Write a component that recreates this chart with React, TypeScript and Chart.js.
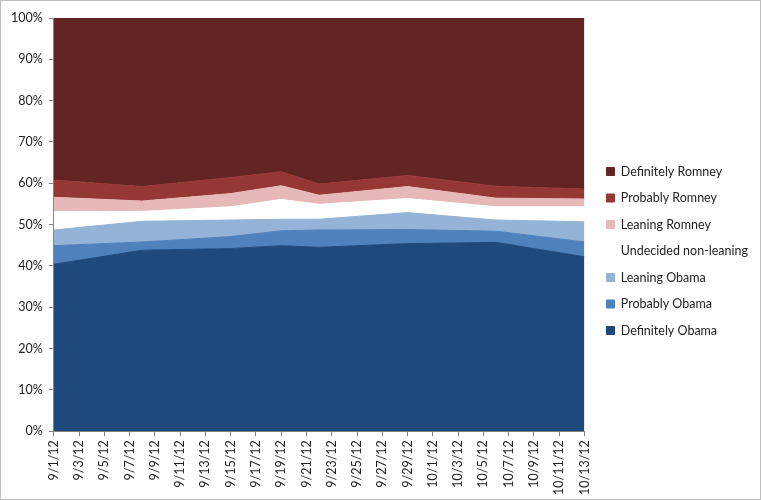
import React, { useEffect, useRef } from "react";
import { Chart, registerables } from "chart.js";

Chart.register(...registerables);

const pollDates = ["9/1/12", "9/8/12", "9/15/12", "9/19/12", "9/22/12", "9/29/12", "10/6/12", "10/13/12"];
const definitelyObama = [40.4, 43.8, 44.2, 44.9, 44.5, 45.4, 45.7, 42.2];
const probablyObama = [4.5, 2.0, 2.9, 3.6, 4.2, 3.4, 2.7, 3.6];
const leaningObama = [3.8, 5.0, 4.0, 2.8, 2.6, 4.1, 2.7, 4.9];
const undecidedNonLeaning = [4.4, 2.4, 3.2, 4.8, 3.6, 3.4, 3.2, 3.6];
const leaningRomney = [3.5, 2.5, 3.2, 3.3, 2.2, 2.9, 2.1, 1.9];
const probablyRomney = [4.2, 3.5, 3.9, 3.4, 2.7, 2.7, 2.9, 2.4];
const definitelyRomney = [39.2, 40.8, 38.6, 37.2, 40.2, 38.1, 40.7, 41.4];

const xTickLabels = [
  "9/1/12", "9/3/12", "9/5/12", "9/7/12", "9/9/12", "9/11/12", "9/13/12", "9/15/12",
  "9/17/12", "9/19/12", "9/21/12", "9/23/12", "9/25/12", "9/27/12", "9/29/12",
  "10/1/12", "10/3/12", "10/5/12", "10/7/12", "10/9/12", "10/11/12", "10/13/12",
];
const yTickLabels = ["0%", "10%", "20%", "30%", "40%", "50%", "60%", "70%", "80%", "90%", "100%"];

const FONT = "Lato, 'Liberation Sans', sans-serif";

function dayIndex(d: string): number {
  const [m, day, y] = d.split("/").map(Number);
  const t = Date.UTC(2000 + y, m - 1, day);
  const t0 = Date.UTC(2012, 8, 1);
  return Math.round((t - t0) / 86400000);
}

export default function App() {
  const ref = useRef<HTMLCanvasElement | null>(null);

  useEffect(() => {
    if (!ref.current) return;
    const series = [
      { label: "Definitely Obama", data: definitelyObama, color: "#1F497D" },
      { label: "Probably Obama", data: probablyObama, color: "#4F81BD" },
      { label: "Leaning Obama", data: leaningObama, color: "#95B3D7" },
      { label: "Undecided non-leaning", data: undecidedNonLeaning, color: "#FFFFFF" },
      { label: "Leaning Romney", data: leaningRomney, color: "#E6B9B8" },
      { label: "Probably Romney", data: probablyRomney, color: "#953735" },
      { label: "Definitely Romney", data: definitelyRomney, color: "#632523" },
    ];
    const totals = pollDates.map((_, i) => series.reduce((s, d) => s + d.data[i], 0));
    const chart = new Chart(ref.current, {
      type: "line",
      data: {
        datasets: series.map((s, k) => ({
          label: s.label,
          data: pollDates.map((d, i) => ({ x: dayIndex(d), y: (s.data[i] / totals[i]) * 100 })),
          backgroundColor: s.color,
          borderColor: s.color,
          borderWidth: 1,
          pointRadius: 0,
          tension: 0,
          fill: k === 0 ? "origin" : "-1",
          xAxisID: "x",
          yAxisID: "y",
        })),
      },
      options: {
        responsive: false,
        animation: false,
        layout: { padding: { top: 2, right: 2, bottom: 0, left: 4 } },
        plugins: {
          tooltip: { enabled: false },
          legend: {
            position: "right",
            reverse: true,
            maxWidth: 220,
            labels: {
              boxWidth: 8,
              boxHeight: 8,
              padding: 14,
              color: "#222",
              font: { family: FONT, size: 12.5 },
            },
          },
        },
        scales: {
          x: {
            type: "linear",
            min: 0,
            max: 42,
            grid: { display: true, drawOnChartArea: false, tickLength: 5, color: "#868686" },
            border: { color: "#868686" },
            ticks: {
              stepSize: 2,
              autoSkip: false,
              maxRotation: 90,
              minRotation: 90,
              color: "#222",
              padding: 4,
              font: { family: FONT, size: 12.5 },
              callback: (_v: any, i: number) => xTickLabels[i],
            },
          },
          y: {
            stacked: true,
            min: 0,
            max: 100,
            grid: { display: true, drawOnChartArea: false, tickLength: 5, color: "#868686" },
            border: { color: "#868686" },
            ticks: {
              stepSize: 10,
              color: "#222",
              padding: 6,
              font: { family: FONT, size: 12.5 },
              callback: (_v: any, i: number) => yTickLabels[i],
            },
          },
          gap: {
            type: "linear",
            axis: "y",
            position: "right",
            display: true,
            grid: { display: false },
            border: { display: false },
            ticks: { display: false },
            afterFit: (scale: any) => {
              scale.width = 8;
            },
          },
          gapTop: {
            type: "linear",
            axis: "x",
            position: "top",
            display: true,
            grid: { display: false },
            border: { display: false },
            ticks: { display: false },
            afterFit: (scale: any) => {
              scale.height = 15;
            },
          },
        },
      },
    });
    return () => chart.destroy();
  }, []);

  return (
    <div
      style={{
        position: "fixed",
        left: 0,
        top: 0,
        width: 761,
        height: 500,
        boxSizing: "border-box",
        border: "1px solid #bdbdbd",
        background: "#fff",
      }}
    >
      <canvas ref={ref} width={759} height={498} style={{ display: "block" }} />
    </div>
  );
}
